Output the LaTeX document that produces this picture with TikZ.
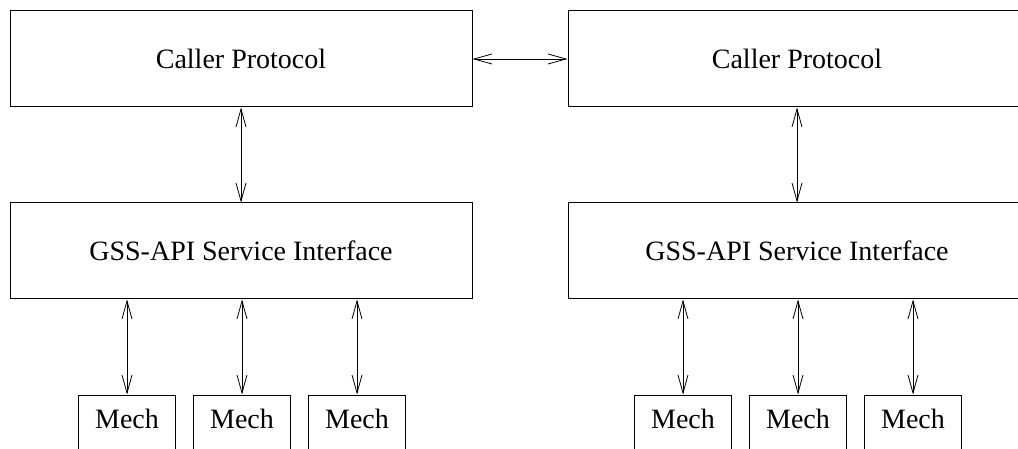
\documentclass[tikz,border=0pt]{standalone}
\usepackage{fontspec}
\setmainfont{Liberation Serif}
\usetikzlibrary{arrows.meta}
\begin{document}
\begin{tikzpicture}[x=1pt,y=-1pt,
  box/.style={draw, line width=1pt, inner sep=0pt, minimum height=96pt, font=\fontsize{28}{32}\selectfont},
  mechbox/.style={draw, line width=1pt, inner sep=0pt, anchor=base, minimum width=97pt,
     text height=33pt, text depth=40pt, font=\fontsize{28}{32}\selectfont},
  biarrow/.style={line width=0.8pt, {Straight Barb[length=18pt,width=10pt]}-{Straight Barb[length=18pt,width=10pt]}}]
\useasboundingbox (0,0) rectangle (1018,449);
\clip (0,0) rectangle (1018,449);
\node[box, minimum width=462pt] (cpL) at (241,59) {Caller Protocol};
\node[box, minimum width=458pt] (cpR) at (797,59) {Caller Protocol};
\node[box, minimum width=462pt] (gssL) at (241,251) {GSS-API Service Interface};
\node[box, minimum width=458pt] (gssR) at (797,251) {GSS-API Service Interface};
\node[mechbox] (mL1) at (127,428) {Mech};
\node[mechbox] (mL2) at (242,428) {Mech};
\node[mechbox] (mL3) at (357,428) {Mech};
\node[mechbox] (mR1) at (683,428) {Mech};
\node[mechbox] (mR2) at (798,428) {Mech};
\node[mechbox] (mR3) at (913,428) {Mech};
\draw[biarrow] (cpL.east) -- (cpR.west);
\draw[biarrow] (cpL.south) -- (gssL.north);
\draw[biarrow] (cpR.south) -- (gssR.north);
\foreach \m in {mL1,mL2,mL3} \draw[biarrow] (gssL.south -| \m.north) -- (\m.north);
\foreach \m in {mR1,mR2,mR3} \draw[biarrow] (gssR.south -| \m.north) -- (\m.north);
\end{tikzpicture}
\end{document}
